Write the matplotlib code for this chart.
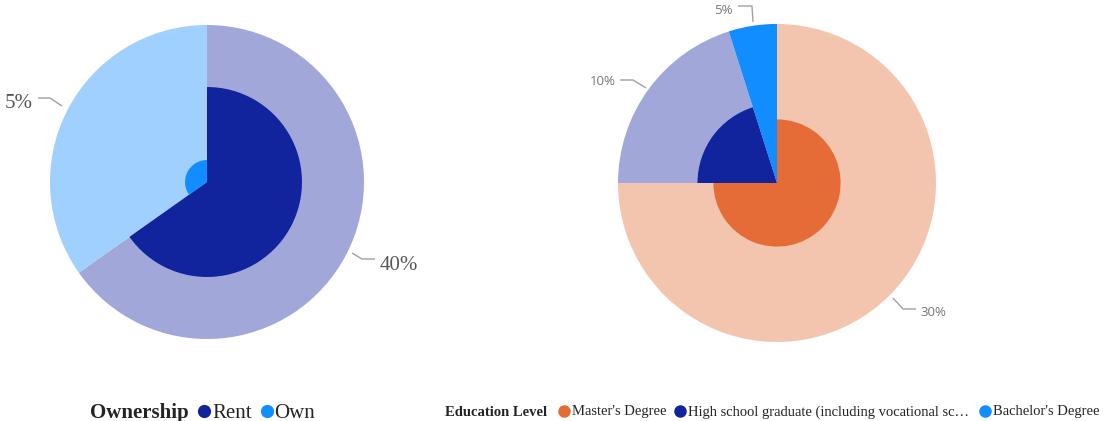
import matplotlib
matplotlib.use("Agg")
import matplotlib.pyplot as plt
from matplotlib.patches import Wedge

# Ownership chart
own_categories = ["Rent", "Own"]
own_share = [65.2, 34.8]          # angular share of each slice (%)
own_inner = [0.605, 0.14]         # relative radius of the inner slice
own_labels = ["40%", "5%"]
own_outer_colors = ["#A1A7D9", "#9FD0FE"]
own_inner_colors = ["#12239E", "#118DFF"]

# Education chart
edu_categories = ["Master's Degree",
                  "High school graduate (including vocational sc\u2026",
                  "Bachelor's Degree"]
edu_share = [75.0, 20.1, 4.9]
edu_inner = [0.40, 0.50, 1.0]
edu_labels = ["30%", "10%", "5%"]
edu_outer_colors = ["#F3C4AE", "#A1A7D9", "#9FD0FE"]
edu_inner_colors = ["#E66C37", "#12239E", "#118DFF"]

W, H = 1104, 421
fig = plt.figure(figsize=(W / 100, H / 100), dpi=100)
ax = fig.add_axes([0, 0, 1, 1])
ax.set_xlim(0, W)
ax.set_ylim(H, 0)
ax.set_aspect("equal")
ax.axis("off")


def draw_rose(cx, cy, radius, shares, inner, outer_colors, inner_colors):
    total = sum(shares)
    spans = []
    start = 0.0
    for s in shares:
        end = start + 360.0 * s / total
        spans.append((start, end))
        start = end
    # y axis points down, so counter-clockwise matplotlib angles turn clockwise on screen
    for (a0, a1), col in zip(spans, outer_colors):
        ax.add_patch(Wedge((cx, cy), radius, a0 - 90, a1 - 90, color=col, lw=0))
    for (a0, a1), f, col in zip(spans, inner, inner_colors):
        ax.add_patch(Wedge((cx, cy), radius * f, a0 - 90, a1 - 90, color=col, lw=0))


draw_rose(207, 182, 157, own_share, own_inner, own_outer_colors, own_inner_colors)
draw_rose(777, 183, 159, edu_share, edu_inner, edu_outer_colors, edu_inner_colors)

line_kw = dict(color="#a0a0a0", lw=1.0, solid_capstyle="butt")

# Ownership data labels
serif = "Liberation Serif"
ax.plot([62, 50, 38], [106, 98, 98], **line_kw)
ax.text(33, 104, own_labels[1], ha="right", va="center", fontsize=15,
        family=serif, color="#555555")
ax.plot([352, 362, 375], [253, 259, 259], **line_kw)
ax.text(380, 266, own_labels[0], ha="left", va="center", fontsize=15,
        family=serif, color="#555555")

# Education data labels
sans = "Open Sans"
ax.plot([916, 903, 893], [309, 309, 298], **line_kw)
ax.text(920, 313, edu_labels[0], ha="left", va="center", fontsize=9.5,
        family=sans, color="#777777")
ax.plot([646, 633, 620], [88, 80, 80], **line_kw)
ax.text(616, 81.5, edu_labels[1], ha="right", va="center", fontsize=9.5,
        family=sans, color="#777777")
ax.plot([753, 752, 738], [22, 6, 6], **line_kw)
ax.text(733, 10, edu_labels[2], ha="right", va="center", fontsize=9.5,
        family=sans, color="#777777")

# Ownership legend
ax.text(90, 413, "Ownership", ha="left", va="center", fontsize=15,
        family=serif, weight="bold", color="#252423")
ax.plot(204, 411, "o", ms=8.5, color=own_inner_colors[0])
ax.text(212, 413, own_categories[0], ha="left", va="center", fontsize=15,
        family=serif, color="#252423")
ax.plot(267, 411, "o", ms=8.5, color=own_inner_colors[1])
ax.text(274, 413, own_categories[1], ha="left", va="center", fontsize=15,
        family=serif, color="#252423")

# Education legend
ax.text(445, 412, "Education Level", ha="left", va="center", fontsize=10.5,
        family=serif, weight="bold", color="#252423")
leg_x = [564, 680, 985]
for x, name, col in zip(leg_x, edu_categories, edu_inner_colors):
    ax.plot(x, 411, "o", ms=8, color=col)
    ax.text(x + 8, 412, name, ha="left", va="center", fontsize=10.5,
            family=serif, color="#252423")

fig.savefig("out.png", dpi=100)
